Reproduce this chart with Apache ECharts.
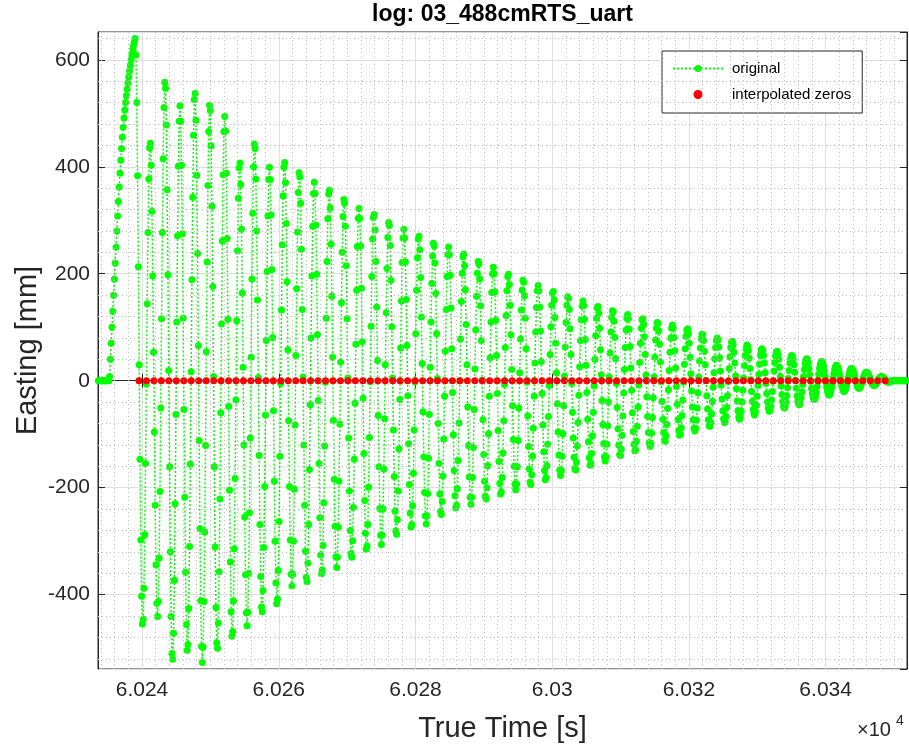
<!DOCTYPE html>
<html>
<head>
<meta charset="utf-8">
<script src="https://cdn.jsdelivr.net/npm/echarts@6/dist/echarts.min.js"></script>
<style>
html,body{margin:0;padding:0;background:#fff;}
#chart{width:909px;height:749px;}
</style>
</head>
<body>
<div id="chart"></div>
<script>
// ---- data ----
const titleText = 'log: 03_488cmRTS_uart';
const xName = 'True Time [s]';
const yName = 'Easting [mm]';
const legendNames = ['original', 'interpolated zeros'];

// sampling of the "original" trace
const sampleStart = 60233.5;   // s
const sampleStep = 0.116946;   // s

const leadZeros = [0,0,0,0,0,0,0,0,0,0,0,0,0,0,0];
const rampValues = [8,40,70,100,130,160,190,220,250,280,308,335,362,388,412,434,455,474,491,506,520,533,545,557,568,579,590,600,610,619,627,634];
const swingValues = [
640,609,520,383,213,30,-147,-298,-403,-455,
-446,-388,-288,-155,-6,144,277,377,435,
444,403,317,196,53,-96,-233,-344,-416,
-441,-413,-332,-207,-51,116,277,415,511,558,
547,478,357,198,19,-161,-320,-441,-510,
-521,-472,-373,-230,-63,110,271,401,485,
514,485,403,275,117,-54,-218,-358,-456,-504,
-493,-426,-310,-156,17,189,343,459,526,
537,487,384,238,66,-112,-277,-411,-497,
-527,-498,-413,-283,-121,54,222,365,466,515,
505,439,326,176,8,-161,-311,-424,-490,
-500,-453,-357,-221,-60,106,261,385,466,
494,467,388,266,115,-48,-205,-339,-432,-478,
-469,-412,-314,-183,-36,112,243,341,398,
407,367,283,164,25,-120,-255,-363,-434,
-458,-433,-360,-247,-107,44,190,313,400,442,
434,377,280,151,6,-140,-269,-366,-423,
-432,-392,-312,-198,-64,75,204,308,376,
399,376,310,208,81,-56,-188,-300,-378,-417,
-408,-355,-263,-141,-5,132,254,346,399,
408,370,294,185,58,-75,-198,-298,-362,
-384,-362,-300,-203,-83,47,172,278,352,389,
381,332,246,133,7,-120,-233,-319,-368,
-376,-341,-269,-166,-45,80,196,289,350,
371,350,291,199,86,-37,-155,-256,-326,-361,
-354,-308,-228,-122,-3,117,223,303,349,
356,323,255,158,44,-74,-184,-272,-329,
-349,-330,-274,-188,-81,35,146,240,307,339,
332,289,215,116,5,-107,-206,-280,-323,
-330,-299,-237,-147,-42,68,169,251,304,
322,304,252,173,73,-33,-136,-224,-285,-315,
-309,-269,-199,-106,-2,102,195,265,305,
311,282,223,138,38,-65,-161,-239,-289,
-306,-289,-240,-165,-71,30,127,210,268,296,
290,253,188,101,5,-92,-179,-244,-281,
-287,-260,-206,-127,-35,61,149,221,267,
283,267,222,152,66,-28,-118,-194,-248,-274,
-269,-234,-173,-92,-2,88,169,230,265,
270,245,193,119,32,-58,-142,-209,-253,
-268,-253,-211,-145,-63,25,110,182,233,257,
252,220,163,88,4,-80,-155,-212,-244,
-250,-226,-178,-109,-29,55,133,195,236,
250,236,197,136,60,-22,-101,-168,-215,-238,
-233,-202,-149,-79,0,78,148,201,232,
237,215,170,105,30,-49,-121,-180,-218,
-231,-218,-181,-125,-54,22,95,158,201,223,
218,190,140,75,1,-73,-138,-188,-216,
-221,-200,-159,-99,-29,43,110,165,200,
212,200,166,113,47,-24,-93,-151,-192,-212,
-208,-181,-135,-75,-7,62,122,168,195,
199,180,141,86,21,-47,-110,-160,-193,
-204,-193,-161,-112,-51,15,78,132,169,188,
184,159,117,60,-3,-66,-123,-165,-190,
-194,-176,-141,-89,-29,33,91,137,168,
178,168,138,93,36,-24,-83,-133,-168,-185,
-181,-159,-119,-67,-9,49,101,141,163,
167,151,118,70,15,-43,-96,-139,-167,
-177,-168,-141,-99,-47,9,63,109,141,157,
154,133,97,49,-5,-59,-107,-143,-164,
-167,-152,-122,-78,-27,26,75,114,140,
149,140,115,77,29,-22,-72,-114,-144,-158,
-155,-136,-103,-59,-10,40,84,117,136,
139,126,98,58,11,-37,-82,-118,-142,
-150,-142,-119,-84,-40,7,52,91,118,131,
129,111,81,41,-5,-50,-90,-120,-138,
-140,-128,-102,-66,-23,21,62,95,117,
124,117,96,64,24,-18,-60,-95,-119,-131,
-129,-113,-85,-49,-8,34,70,98,114,
116,105,82,49,10,-30,-67,-97,-116,
-123,-117,-98,-69,-32,7,44,76,98,109,
107,93,68,35,-2,-39,-72,-97,-111,
-113,-103,-82,-52,-17,19,53,80,98,
104,98,81,56,24,-11,-44,-73,-93,-102,
-100,-88,-65,-36,-3,31,60,83,95,
97,88,70,44,13,-19,-49,-73,-89,
-94,-89,-74,-51,-23,7,37,61,79,87,
86,75,55,30,1,-28,-53,-73,-84,
-85,-78,-62,-39,-12,15,41,62,75,
80,76,63,43,18,-8,-34,-56,-71,-78,
-77,-67,-50,-28,-2,23,45,62,72,
74,67,53,33,9,-15,-38,-56,-68,
-72,-68,-57,-40,-18,5,28,47,60,67,
65,57,42,23,2,-20,-39,-54,-62,
-64,-58,-46,-29,-9,12,31,47,57,
60,57,47,33,15,-5,-24,-40,-51,-57,
-56,-48,-36,-20,-1,18,34,46,54,
55,50,40,25,8,-10,-26,-39,-48,
-51,-48,-40,-28,-13,4,19,33,42,47,
46,40,30,16,1,-14,-28,-38,-44,
-45,-41,-32,-21,-7,8,21,32,39,
41,39,33,23,11,-1,-14,-24,-31,-35,
-34,-30,-22,-11,1,12,23,31,35,
36,33,27,18,8,-3,-12,-20,-25,
-27,-25,-21,-14,-5,4,13,21,26,29,
28,25,20,13,5,-4,-11,-16,-19,
-20,-18,-14,-8,-1,6,13,18,22,
23,22,19,14,9,2,-4,-9,-12,-14,
-14,-12,-8,-4,1,6,10,14,16,
16,15,12,9,5,1,-3,-6,-8,
-9,-9,-7,-5,-2,1,3,6,7,8,
8,7,6,4,3,1,-1,-2,-3
];
const tailValues = [-3,-2,-1,0,0,0,0,0,0,0,0,0,0,0,0,0,0,0,0,0,0,0,0,0];

// interpolated zero crossings (time, s)
const zeroTimes = [
60239.56,60240.65,60241.74,60242.83,60243.93,60245.02,60246.11,60247.20,60248.29,60249.38,
60250.48,60251.57,60252.66,60253.75,60254.84,60255.93,60257.02,60258.12,60259.21,60260.30,
60261.39,60262.48,60263.57,60264.66,60265.76,60266.85,60267.94,60269.03,60270.12,60271.21,
60272.31,60273.40,60274.49,60275.58,60276.67,60277.76,60278.85,60279.95,60281.04,60282.13,
60283.22,60284.31,60285.40,60286.49,60287.59,60288.68,60289.77,60290.86,60291.95,60293.04,
60294.14,60295.23,60296.32,60297.41,60298.50,60299.59,60300.68,60301.78,60302.87,60303.96,
60305.05,60306.14,60307.23,60308.32,60309.42,60310.51,60311.60,60312.69,60313.78,60314.87,
60315.97,60317.06,60318.15,60319.24,60320.33,60321.42,60322.51,60323.61,60324.70,60325.79,
60326.88,60327.97,60329.06,60330.15,60331.25,60332.34,60333.43,60334.52,60335.61,60336.70,
60337.80,60338.89,60339.98,60341.07,60342.16,60343.25,60344.34,60345.44,60346.53,60347.62,
60348.71
];

// axis extents
const xMin = 60233.56, xMax = 60351.9;
const yMin = -539, yMax = 652;
const xMinorStep = 2, yMinorStep = 40;

// ---- build ----
const eastingValues = leadZeros.concat(rampValues, swingValues, tailValues);
const originalData = eastingValues.map((v, i) => [sampleStart + i * sampleStep, v]);
const zeroData = zeroTimes.map(t => [t, 0]);

const minorLines = [];
for (let x = Math.ceil(xMin / xMinorStep) * xMinorStep; x < xMax; x += xMinorStep) {
  if (x % 20 !== 0) minorLines.push({ xAxis: x });
}
for (let y = Math.ceil(yMin / yMinorStep) * yMinorStep; y < yMax; y += yMinorStep) {
  if (y % 200 !== 0) minorLines.push({ yAxis: y });
}

const FONT = 'Liberation Sans, Arial, Helvetica, sans-serif';
const AX = '#262626';

const chart = echarts.init(document.getElementById('chart'), null, { renderer: 'canvas' });
chart.setOption({
  animation: false,
  backgroundColor: '#ffffff',
  grid: { left: 98, right: 2, top: 32, bottom: 80, show: true, borderColor: AX, borderWidth: 1, backgroundColor: '#ffffff' },
  xAxis: [{
    type: 'value', min: xMin, max: xMax, position: 'bottom',
    axisLine: { show: true, lineStyle: { color: AX, width: 1 } },
    axisTick: { show: true, inside: true, length: 7, lineStyle: { color: AX } },
    axisLabel: { show: true, color: AX, fontSize: 21, fontFamily: FONT, margin: 11, showMinLabel: false, showMaxLabel: false,
      formatter: v => String(parseFloat((v / 1e4).toFixed(4))) },
    splitLine: { show: true, lineStyle: { color: '#dfdfdf', width: 1 } }
  }, {
    type: 'value', min: xMin, max: xMax, position: 'top',
    axisLine: { show: true, lineStyle: { color: AX, width: 1 } },
    axisTick: { show: true, inside: true, length: 7, lineStyle: { color: AX } },
    axisLabel: { show: false }, splitLine: { show: false }
  }],
  yAxis: [{
    type: 'value', min: yMin, max: yMax, position: 'left',
    axisLine: { show: true, lineStyle: { color: AX, width: 1 } },
    axisTick: { show: true, inside: true, length: 7, lineStyle: { color: AX } },
    axisLabel: { show: true, color: AX, fontSize: 21, fontFamily: FONT, margin: 8, showMinLabel: false, showMaxLabel: false },
    splitLine: { show: true, lineStyle: { color: '#dfdfdf', width: 1 } }
  }, {
    type: 'value', min: yMin, max: yMax, position: 'right',
    axisLine: { show: true, lineStyle: { color: AX, width: 1 } },
    axisTick: { show: true, inside: true, length: 7, lineStyle: { color: AX } },
    axisLabel: { show: false }, splitLine: { show: false }
  }],
  legend: {
    data: legendNames, orient: 'vertical', left: 662, top: 51,
    padding: [9, 11, 10, 10], itemGap: 9, itemWidth: 50, itemHeight: 9,
    backgroundColor: '#ffffff', borderColor: AX, borderWidth: 1,
    textStyle: { fontSize: 15, color: '#000', fontFamily: FONT, padding: [0, 0, 0, 4], lineHeight: 17 }
  },
  graphic: [
    { type: 'text', style: { text: titleText, x: 502.5, y: 15, textAlign: 'center', textVerticalAlign: 'middle', font: 'bold 23px ' + FONT, fill: '#000' } },
    { type: 'text', style: { text: xName, x: 502.5, y: 729, textAlign: 'center', textVerticalAlign: 'middle', font: '29px ' + FONT, fill: AX } },
    { type: 'text', rotation: Math.PI / 2, x: 28, y: 350.5, style: { text: yName, x: 0, y: 0, textAlign: 'center', textVerticalAlign: 'middle', font: '29px ' + FONT, fill: AX } },
    { type: 'text', style: { text: '×10', x: 857, y: 740, textVerticalAlign: 'bottom', font: '20px ' + FONT, fill: AX } },
    { type: 'text', style: { text: '4', x: 896, y: 728, textVerticalAlign: 'bottom', font: '14px ' + FONT, fill: AX } }
  ],
  series: [{
    name: 'grid-minor', type: 'line', data: [], silent: true, z: 1,
    markLine: { silent: true, symbol: ['none', 'none'], label: { show: false }, animation: false,
      lineStyle: { color: '#bdbdbd', width: 1, type: [1, 3] }, data: minorLines }
  }, {
    name: legendNames[0], type: 'line', data: originalData, z: 3,
    symbol: 'circle', symbolSize: 7, showSymbol: true, clip: true,
    itemStyle: { color: '#00ff00', opacity: 1 },
    lineStyle: { color: '#00ff00', width: 1.5, type: [2, 2] }
  }, {
    name: legendNames[1], type: 'scatter', data: zeroData, z: 4,
    symbol: 'circle', symbolSize: 7, itemStyle: { color: '#ff0000', opacity: 1 }
  }]
});
</script>
</body>
</html>
